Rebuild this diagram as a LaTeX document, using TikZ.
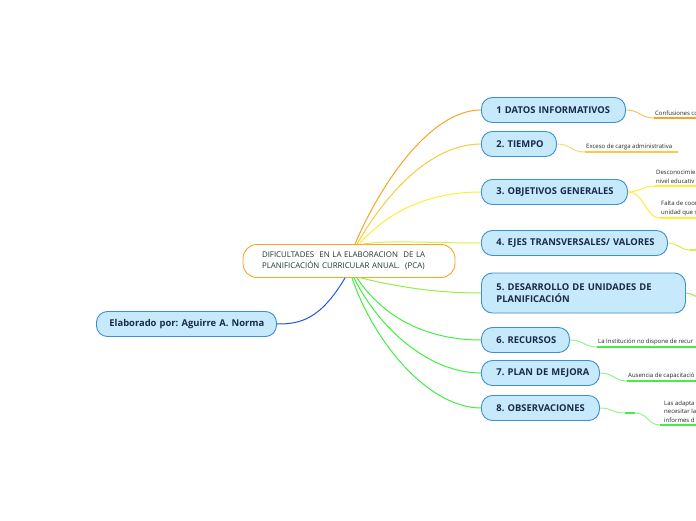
\documentclass[tikz,border=0pt]{standalone}
\usepackage{fontspec}
\setmainfont{Open Sans}
\usetikzlibrary{calc}
\frenchspacing
\definecolor{nodefill}{HTML}{C6E9FB}
\definecolor{nodeline}{HTML}{3C8FD3}
\definecolor{nodetext}{HTML}{1A2A48}
\definecolor{centertext}{HTML}{1F3B2F}
\definecolor{corange}{HTML}{F5A623}
\definecolor{cgold}{HTML}{F9CB3C}
\definecolor{cyellow}{HTML}{FFEE33}
\definecolor{cyg}{HTML}{D8F040}
\definecolor{clgreen}{HTML}{99EE44}
\definecolor{cgreen}{HTML}{44EE44}
\definecolor{cblue}{HTML}{2255EE}
\tikzset{
  branch/.style={draw=nodeline, fill=nodefill, line width=0.9pt, rounded corners=11pt,
    text=nodetext, font=\fontsize{9.4}{11.5}\selectfont\bfseries\frenchspacing, anchor=west,
    minimum height=25pt, inner xsep=15pt, align=left},
  central/.style={draw=corange, fill=white, line width=0.9pt, rounded corners=14pt,
    text=centertext, font=\fontsize{7.9}{11}\selectfont\frenchspacing, align=left,
    minimum width=212pt, minimum height=33pt, inner xsep=19pt, text width=174pt},
  sub/.style={font=\fontsize{6}{8.8}\selectfont, text=black!85, anchor=south west,
    inner xsep=1pt, inner ysep=2pt, align=left},
  conn/.style={line width=1pt},
  uline/.style={line width=1.8pt},
}
\begin{document}
\begin{tikzpicture}[x=1pt,y=-1pt]
\useasboundingbox (0,0) rectangle (696,520);
\fill[white] (0,0) rectangle (696,520);

% central
\node[central] (c) at (349,261) {\mbox{DIFICULTADES\ \ EN LA ELABORACION\ \ DE LA}\\\mbox{PLANIFICACIÓN CURRICULAR ANUAL.\ \ (PCA)}};
\node[branch, inner xsep=13pt, text width=154pt] (auth) at (96,324) {\mbox{Elaborado por: Aguirre A. Norma}};

% branches
\node[branch, text width=114pt] (b1) at (481,110) {\mbox{1 DATOS INFORMATIVOS}};
\node[branch, text width=45pt] (b2) at (481,144) {\mbox{2. TIEMPO}};
\node[branch, text width=116pt] (b3) at (481,192) {\mbox{3. OBJETIVOS GENERALES}};
\node[branch, text width=156pt] (b4) at (481,243) {\mbox{4. EJES TRANSVERSALES/ VALORES}};
\node[branch, text width=174pt, minimum height=40pt] (b5) at (481,293) {\mbox{5. DESARROLLO DE UNIDADES DE}\\\mbox{PLANIFICACIÓN}};
\node[branch, text width=58pt] (b6) at (481,340) {\mbox{6. RECURSOS}};
\node[branch, text width=88pt] (b7) at (481,373) {\mbox{7. PLAN DE MEJORA}};
\node[branch, text width=88pt] (b8) at (481,408) {\mbox{8. OBSERVACIONES}};

% anchor points on central node
\coordinate (t1) at ($(c.north)+(6,0)$);
\coordinate (t2) at ($(c.north)+(8,0)$);
\coordinate (t3) at ($(c.north)+(10,0)$);
\coordinate (t4) at ($(c.north)+(14,0)$);
\coordinate (d5) at ($(c.south)+(12,0)$);
\coordinate (d6) at ($(c.south)+(8,0)$);
\coordinate (d7) at ($(c.south)+(5,0)$);
\coordinate (d8) at ($(c.south)+(3,0)$);
\coordinate (d0) at ($(c.south)+(-4,0)$);

% main connectors
\draw[conn, corange] (t1) .. controls (380,185) and (430,110) .. (b1.west);
\draw[conn, cgold] (t2) .. controls (385,195) and (430,144) .. (b2.west);
\draw[conn, cyellow] (t3) .. controls (390,210) and (430,192) .. (b3.west);
\draw[conn, cyg] (t4) .. controls (390,240) and (430,243) .. (b4.west);
\draw[conn, clgreen] (d5) .. controls (390,285) and (430,293) .. (b5.west);
\draw[conn, cgreen] (d6) .. controls (385,320) and (430,340) .. (b6.west);
\draw[conn, cgreen] (d7) .. controls (380,330) and (430,373) .. (b7.west);
\draw[conn, cgreen] (d8) .. controls (375,345) and (430,408) .. (b8.west);
\draw[conn, cblue] (d0) .. controls (320,320) and (300,324) .. (auth.east);

% sub-topic 1
\coordinate (u1a) at (654,118); \coordinate (u1b) at (700,118);
\draw[conn, corange!70] (b1.east) .. controls (640,110) and (640,118) .. (u1a);
\draw[uline, corange] (u1a) -- (u1b);
\node[sub] (s1) at (u1a) {Confusiones co};

% sub-topic 2
\coordinate (u2a) at (585,152); \coordinate (u2b) at (678,152);
\draw[conn, cgold!70] (b2.east) .. controls (571,144) and (571,152) .. (u2a);
\draw[uline, cgold] (u2a) -- (u2b);
\node[sub] (s2) at (u2a) {Exceso de carga administrativa};

% sub-topic 3
\coordinate (u3a) at (655,186); \coordinate (u3b) at (700,186);
\coordinate (u3c) at (660,218); \coordinate (u3d) at (700,218);
\draw[conn, cyellow] (b3.east) .. controls (640,192) and (642,186) .. (u3a);
\draw[uline, cyellow] (u3a) -- (u3b);
\draw[conn, cyellow] (b3.east) .. controls (645,192) and (645,218) .. (u3c);
\draw[uline, cyellow] (u3c) -- (u3d);
\node[sub] (s3a) at (u3a) {Desconocimie\\nivel educativ};
\node[sub] (s3b) at (u3c) {Falta de coord\\unidad que se};

% sub-topic 4 and 5 (cut at edge)
\coordinate (u4a) at (690,250); \coordinate (u4b) at (700,250);
\draw[conn, cyg] (b4.east) .. controls (678,243) and (680,250) .. (u4a);
\draw[uline, cyg] (u4a) -- (u4b);
\coordinate (u5a) at (700,297);
\draw[conn, clgreen] (b5.east) .. controls (692,293) and (694,297) .. (u5a);

% sub-topic 6
\coordinate (u6a) at (597,347); \coordinate (u6b) at (700,347);
\draw[conn, cgreen!60] (b6.east) .. controls (584,340) and (584,347) .. (u6a);
\draw[uline, cgreen] (u6a) -- (u6b);
\node[sub] (s6) at (u6a) {La Institución no dispone de recur};

% sub-topic 7
\coordinate (u7a) at (627,381); \coordinate (u7b) at (700,381);
\draw[conn, cgreen!60] (b7.east) .. controls (614,373) and (614,381) .. (u7a);
\draw[uline, cgreen] (u7a) -- (u7b);
\node[sub] (s7) at (u7a) {Ausencia de capacitació};

% sub-topic 8
\coordinate (m8a) at (625,413); \coordinate (m8b) at (635,413);
\coordinate (u8a) at (660,425); \coordinate (u8b) at (700,425);
\draw[conn, cgreen!60] (b8.east) .. controls (612,408) and (612,413) .. (m8a);
\draw[uline, cgreen] (m8a) -- (m8b);
\draw[conn, cgreen!60] (m8b) .. controls (648,413) and (648,425) .. (u8a);
\draw[uline, cgreen] (u8a) -- (u8b);
\node[sub] (s8) at ($(u8a)+(3,0)$) {Las adapta\\necesitar la\\informes d};
\end{tikzpicture}
\end{document}
